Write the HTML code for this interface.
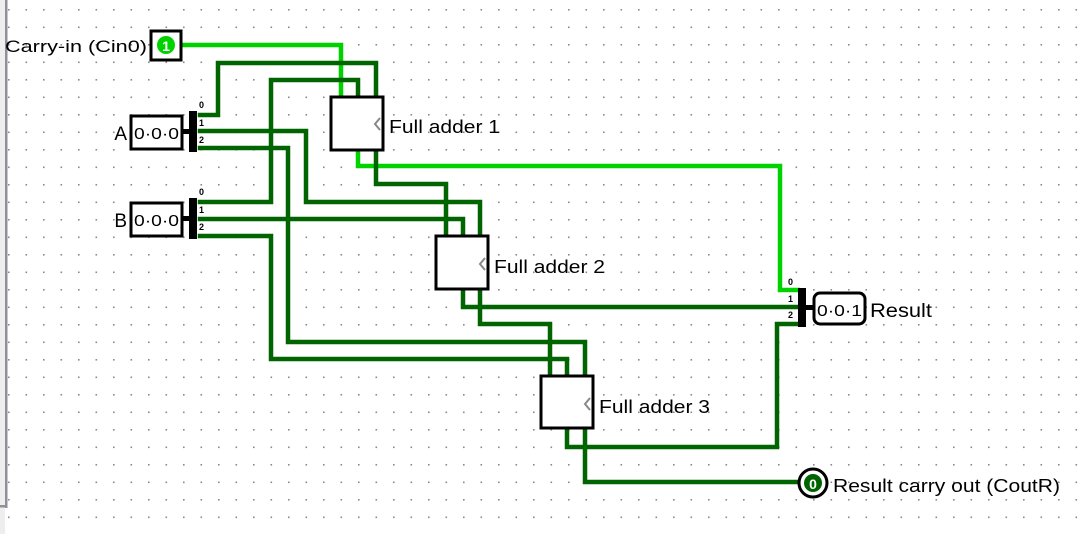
<!DOCTYPE html>
<html><head><meta charset="utf-8"><style>
html,body{margin:0;padding:0;background:#fff;}
svg{display:block;font-family:"Liberation Sans","DejaVu Sans",sans-serif;}
</style></head><body>
<svg width="1091" height="534" viewBox="0 0 1091 534" xmlns="http://www.w3.org/2000/svg">
<defs>
<pattern id="g" x="8" y="9" width="17.5" height="17.5" patternUnits="userSpaceOnUse">
<rect x="0" y="0" width="1.6" height="1.6" fill="#8a8a8a"/>
</pattern>
</defs>
<rect width="1091" height="534" fill="#fff"/>
<rect x="7" y="0" width="1084" height="534" fill="url(#g)"/>
<rect x="0" y="0" width="5" height="534" fill="#eeeeee"/>
<rect x="5" y="0" width="2.5" height="508" fill="#8f9099"/>
<rect x="0" y="505" width="7" height="2.5" fill="#8f9099"/>

<g fill="none" stroke-width="4.5" stroke-linejoin="miter" stroke-linecap="square">
<polyline stroke="#00d200" points="182,45 341,45 341,97"/>
<polyline stroke="#00d200" points="358,150 358,166 780,166 780,290 798,290"/>
<g stroke="#006400">
<polyline points="200,115 218,115 218,63 376,63 376,97"/>
<polyline points="200,202 271,202 271,80 358,80 358,97"/>
<polyline points="200,131 306,131 306,202 480,202 480,236"/>
<polyline points="200,148 288,148 288,342 585,342 585,376"/>
<polyline points="200,219 463,219 463,236"/>
<polyline points="200,236 271,236 271,359 567,359 567,376"/>
<polyline points="376,150 376,184 446,184 446,236"/>
<polyline points="463,289 463,307 798,307"/>
<polyline points="480,289 480,324 550,324 550,376"/>
<polyline points="567,428 567,447 777,447 777,324 798,324"/>
<polyline points="585,428 585,482 800,482"/>
</g>
</g>

<rect x="151" y="31" width="30" height="29" fill="#fff" stroke="#000" stroke-width="3"/>
<circle cx="166" cy="45" r="9" fill="#00d200"/>
<text x="166" y="51" font-size="14" fill="#fff" text-anchor="middle" font-weight="bold">1</text>
<text x="5" y="52" font-size="17" fill="#000" textLength="142" lengthAdjust="spacingAndGlyphs">Carry-in (Cin0)</text>

<rect x="131" y="116" width="51" height="33" fill="#fff" stroke="#000" stroke-width="3"/>
<text x="134" y="139" font-size="16" fill="#000" textLength="45" lengthAdjust="spacingAndGlyphs">0·0·0</text>
<text x="127" y="140" font-size="19" text-anchor="end" fill="#000">A</text>
<rect x="182" y="129" width="8" height="5" fill="#000"/>
<rect x="189" y="111" width="8" height="41" fill="#000"/>
<text x="199" y="108" font-size="9" font-weight="bold" fill="#000">0</text>
<text x="199" y="126" font-size="9" font-weight="bold" fill="#000">1</text>
<text x="199" y="143" font-size="9" font-weight="bold" fill="#000">2</text>

<rect x="131" y="203" width="51" height="33" fill="#fff" stroke="#000" stroke-width="3"/>
<text x="134" y="226" font-size="16" fill="#000" textLength="45" lengthAdjust="spacingAndGlyphs">0·0·0</text>
<text x="127" y="227" font-size="19" text-anchor="end" fill="#000">B</text>
<rect x="182" y="216" width="8" height="5" fill="#000"/>
<rect x="189" y="198" width="8" height="41" fill="#000"/>
<text x="199" y="195" font-size="9" font-weight="bold" fill="#000">0</text>
<text x="199" y="213" font-size="9" font-weight="bold" fill="#000">1</text>
<text x="199" y="230" font-size="9" font-weight="bold" fill="#000">2</text>

<g fill="#fff" stroke="#000" stroke-width="3">
<rect x="331" y="97" width="52" height="53"/>
<rect x="436" y="236" width="52" height="53"/>
<rect x="541" y="376" width="52" height="52"/>
</g>
<g fill="none" stroke="#888" stroke-width="2">
<polyline points="380,118 375,124 380,130"/>
<polyline points="485,258 480,264 485,270"/>
<polyline points="590,398 585,404 590,410"/>
</g>
<text x="389" y="133" font-size="18" fill="#000" textLength="111" lengthAdjust="spacingAndGlyphs">Full adder 1</text>
<text x="494" y="273" font-size="18" fill="#000" textLength="111" lengthAdjust="spacingAndGlyphs">Full adder 2</text>
<text x="599" y="413" font-size="18" fill="#000" textLength="111" lengthAdjust="spacingAndGlyphs">Full adder 3</text>

<rect x="798" y="288" width="8" height="39" fill="#000"/>
<rect x="805" y="305" width="9" height="5" fill="#000"/>
<text x="788" y="285" font-size="9" font-weight="bold" fill="#000">0</text>
<text x="788" y="302" font-size="9" font-weight="bold" fill="#000">1</text>
<text x="788" y="318" font-size="9" font-weight="bold" fill="#000">2</text>
<rect x="814" y="293" width="51" height="31" rx="6" fill="#fff" stroke="#000" stroke-width="3"/>
<text x="817" y="316" font-size="16" fill="#000" textLength="45" lengthAdjust="spacingAndGlyphs">0·0·1</text>
<text x="870" y="317" font-size="19" fill="#000" textLength="62" lengthAdjust="spacingAndGlyphs">Result</text>

<circle cx="813" cy="483" r="14" fill="#fff" stroke="#000" stroke-width="3"/>
<circle cx="813" cy="483" r="9" fill="#006400"/>
<text x="813" y="489" font-size="14" fill="#fff" text-anchor="middle" font-weight="bold">0</text>
<text x="833" y="492" font-size="18" fill="#000" textLength="227" lengthAdjust="spacingAndGlyphs">Result carry out (CoutR)</text>
</svg>
</body></html>
